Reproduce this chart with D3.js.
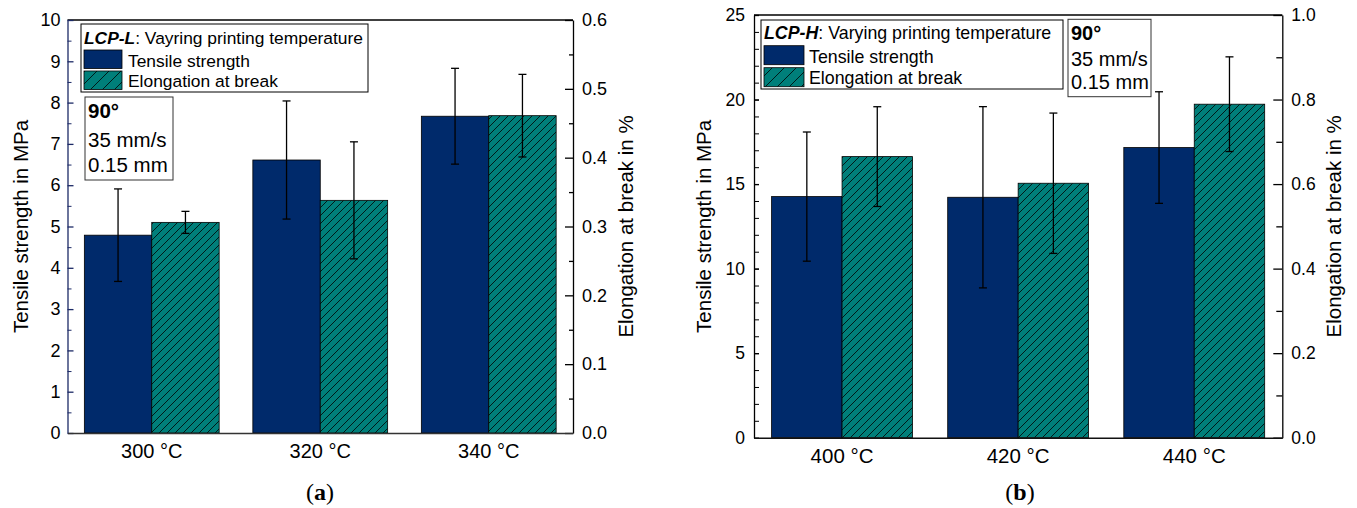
<!DOCTYPE html>
<html>
<head>
<meta charset="utf-8">
<script src="https://cdn.jsdelivr.net/npm/d3@7"></script>
<style>
  body { margin: 0; background: #fff; }
  text { font-family: "Liberation Sans", Arial, sans-serif; fill: #000; }
</style>
</head>
<body>
<script>
// panel (a) data, LCP-L
var tempsA = ["300 °C", "320 °C", "340 °C"];
var tensileA = [4.79, 6.61, 7.67];
var tensileErrA = [1.12, 1.43, 1.16];
var elongA = [0.306, 0.338, 0.461];
var elongErrA = [0.016, 0.085, 0.060];
var leftTicksA = [0, 1, 2, 3, 4, 5, 6, 7, 8, 9, 10];
var rightTicksA = [0.0, 0.1, 0.2, 0.3, 0.4, 0.5, 0.6];

// panel (b) data, LCP-H
var tempsB = ["400 °C", "420 °C", "440 °C"];
var tensileB = [14.26, 14.22, 17.16];
var tensileErrB = [3.82, 5.36, 3.30];
var elongB = [0.665, 0.602, 0.789];
var elongErrB = [0.118, 0.166, 0.112];
var leftTicksB = [0, 5, 10, 15, 20, 25];
var rightTicksB = [0.0, 0.2, 0.4, 0.6, 0.8, 1.0];

var blue = "#002a6b",
    teal = "#007f7a";

var svg = d3.select("body").append("svg")
    .attr("width", 1357)
    .attr("height", 508);

svg.append("rect").attr("width", 1357).attr("height", 508).attr("fill", "#fff");

// hatch patterns (bars and legend swatches)
var defs = svg.append("defs");
function hatch(id, s) {
  var p = defs.append("pattern")
      .attr("id", id)
      .attr("patternUnits", "userSpaceOnUse")
      .attr("width", s)
      .attr("height", s);
  p.append("rect").attr("width", s).attr("height", s).attr("fill", teal);
  p.append("path")
      .attr("d", "M0," + s + "L" + s + ",0M" + (-s / 4) + "," + (s / 4) + "L" + (s / 4) + "," + (-s / 4) +
                 "M" + (s * 3 / 4) + "," + (s * 5 / 4) + "L" + (s * 5 / 4) + "," + (s * 3 / 4))
      .attr("stroke", "#000")
      .attr("stroke-width", 0.8);
}
hatch("hatchBar", 8);
hatch("hatchLeg", 12);

function drawPanel(p) {
  var g = svg.append("g");

  var x = d3.scaleBand().domain(p.cats).range([p.left, p.right])
      .paddingInner(0.2).paddingOuter(0.1);
  var xs = d3.scaleBand().domain(["t", "e"]).range([0, x.bandwidth()]);
  var y = d3.scaleLinear().domain([0, p.leftTicks[p.leftTicks.length - 1]]).range([p.bottom, p.top]);
  var y2 = d3.scaleLinear().domain([0, p.rightTicks[p.rightTicks.length - 1]]).range([p.bottom, p.top]);

  // tensile bars
  g.selectAll(".bt").data(p.cats).enter().append("rect")
      .attr("x", function(d) { return x(d) + xs("t"); })
      .attr("y", function(d, i) { return y(p.tensile[i]); })
      .attr("width", xs.bandwidth())
      .attr("height", function(d, i) { return y(0) - y(p.tensile[i]); })
      .attr("fill", blue)
      .attr("stroke", "#000")
      .attr("stroke-width", 0.8);

  // elongation bars
  g.selectAll(".be").data(p.cats).enter().append("rect")
      .attr("x", function(d) { return x(d) + xs("e"); })
      .attr("y", function(d, i) { return y2(p.elong[i]); })
      .attr("width", xs.bandwidth())
      .attr("height", function(d, i) { return y2(0) - y2(p.elong[i]); })
      .attr("fill", "url(#hatchBar)")
      .attr("stroke", "#000")
      .attr("stroke-width", 0.8);

  // error bars
  function errBars(vals, errs, sc, key) {
    var eg = g.selectAll(".e" + key).data(p.cats).enter().append("g")
        .attr("stroke", "#000").attr("stroke-width", 1.3);
    var cx = function(d) { return x(d) + xs(key) + xs.bandwidth() / 2; };
    eg.append("line")
        .attr("x1", cx).attr("x2", cx)
        .attr("y1", function(d, i) { return sc(vals[i] + errs[i]); })
        .attr("y2", function(d, i) { return sc(vals[i] - errs[i]); });
    [1, -1].forEach(function(sg) {
      eg.append("line")
          .attr("x1", function(d) { return cx(d) - 4; })
          .attr("x2", function(d) { return cx(d) + 4; })
          .attr("y1", function(d, i) { return sc(vals[i] + sg * errs[i]); })
          .attr("y2", function(d, i) { return sc(vals[i] + sg * errs[i]); });
    });
  }
  errBars(p.tensile, p.tensileErr, y, "t");
  errBars(p.elong, p.elongErr, y2, "e");

  // top frame line
  g.append("line")
      .attr("x1", p.left).attr("x2", p.right)
      .attr("y1", p.top).attr("y2", p.top)
      .attr("stroke", "#000").attr("stroke-width", 1.3);

  // left axis, minor then major
  g.append("g")
      .attr("transform", "translate(" + p.left + ",0)")
      .call(d3.axisLeft(y).tickValues(p.leftMinor).tickSize(-p.minorL).tickFormat(""))
      .call(function(a) { a.select(".domain").remove(); })
      .selectAll("line").attr("stroke", p.leftColor);
  var la = g.append("g")
      .attr("transform", "translate(" + p.left + ",0)")
      .call(d3.axisLeft(y).tickValues(p.leftTicks).tickSize(-p.majorL).tickSizeOuter(0).tickPadding(p.padL));
  la.selectAll("line, path").attr("stroke", p.leftColor).attr("stroke-width", 1.3);
  la.selectAll("text").attr("font-size", p.tickFont).attr("font-family", null);

  // right axis
  g.append("g")
      .attr("transform", "translate(" + p.right + ",0)")
      .call(d3.axisRight(y2).tickValues(p.rightMinor).tickSize(-p.minorR).tickFormat(""))
      .call(function(a) { a.select(".domain").remove(); })
      .selectAll("line").attr("stroke", "#000").attr("stroke-width", 1.3);
  var ra = g.append("g")
      .attr("transform", "translate(" + p.right + ",0)")
      .call(d3.axisRight(y2).tickValues(p.rightTicks).tickSize(-p.majorR).tickSizeOuter(0)
        .tickPadding(p.padR).tickFormat(d3.format(".1f")));
  ra.selectAll("line, path").attr("stroke", "#000").attr("stroke-width", 1.3);
  ra.selectAll("text").attr("font-size", p.tickFont).attr("font-family", null);

  // bottom axis
  var ba = g.append("g")
      .attr("transform", "translate(0," + p.bottom + ")")
      .call(d3.axisBottom(x).tickSize(0).tickSizeOuter(0).tickPadding(p.padB));
  ba.select(".domain").attr("stroke", p.bottomColor).attr("stroke-width", 1.6);
  ba.selectAll("text").attr("font-size", p.xFont).attr("font-family", null);

  // axis titles
  var midY = (p.top + p.bottom) / 2;
  g.append("text")
      .attr("transform", "translate(" + p.titleL + "," + midY + ") rotate(-90)")
      .attr("text-anchor", "middle")
      .attr("dominant-baseline", "central")
      .attr("font-size", p.titleFont)
      .text("Tensile strength in MPa");
  g.append("text")
      .attr("transform", "translate(" + p.titleR + "," + midY + ") rotate(-90)")
      .attr("text-anchor", "middle")
      .attr("dominant-baseline", "central")
      .attr("font-size", p.titleFont)
      .text("Elongation at break in %");

  // legend
  var L = p.legend;
  g.append("rect")
      .attr("x", L.x).attr("y", L.y).attr("width", L.w).attr("height", L.h)
      .attr("fill", "#fff").attr("stroke", "#000").attr("stroke-width", 1);
  var lt = g.append("text")
      .attr("x", L.x + 3).attr("y", L.y + L.title)
      .attr("font-size", L.font);
  lt.append("tspan").attr("font-weight", "bold").attr("font-style", "italic").text(p.material);
  lt.append("tspan").text(": " + p.legendText);
  g.append("rect")
      .attr("x", L.x + 3).attr("y", L.y + L.sw1).attr("width", L.sww).attr("height", L.swh)
      .attr("fill", blue).attr("stroke", "#000").attr("stroke-width", 0.8);
  g.append("rect")
      .attr("x", L.x + 3).attr("y", L.y + L.sw2).attr("width", L.sww).attr("height", L.swh)
      .attr("fill", "url(#hatchLeg)").attr("stroke", "#000").attr("stroke-width", 0.8);
  g.append("text")
      .attr("x", L.x + L.tx).attr("y", L.y + L.sw1 + L.swh - 2)
      .attr("font-size", L.font).text("Tensile strength");
  g.append("text")
      .attr("x", L.x + L.tx).attr("y", L.y + L.sw2 + L.swh - 3)
      .attr("font-size", L.font).text("Elongation at break");

  // settings box
  var B = p.inset;
  g.append("rect")
      .attr("x", B.x).attr("y", B.y).attr("width", B.w).attr("height", B.h)
      .attr("fill", "#fff").attr("stroke", "#333").attr("stroke-width", 1);
  ["90°", "35 mm/s", "0.15 mm"].forEach(function(s, i) {
    g.append("text")
        .attr("x", B.x + 3).attr("y", B.y + B.lines[i])
        .attr("font-size", B.font)
        .attr("font-weight", i == 0 ? "bold" : null)
        .text(s);
  });

  // caption
  var cap = g.append("text")
      .attr("x", p.capX).attr("y", 500)
      .attr("text-anchor", "middle")
      .attr("font-size", 24)
      .style("font-family", "'Palatino Linotype', 'Book Antiqua', 'Liberation Serif', serif");
  cap.append("tspan").text("(");
  cap.append("tspan").attr("font-weight", "bold").text(p.letter);
  cap.append("tspan").text(")");
}

drawPanel({
  cats: tempsA, tensile: tensileA, tensileErr: tensileErrA, elong: elongA, elongErr: elongErrA,
  leftTicks: leftTicksA, rightTicks: rightTicksA,
  leftMinor: d3.range(0.5, 10, 1), rightMinor: d3.range(0.05, 0.6, 0.1),
  left: 67.5, right: 573, top: 20, bottom: 433,
  leftColor: "#1c2a66", bottomColor: "#333",
  majorL: 6, minorL: 4, majorR: 8, minorR: 4, padL: 7, padR: 9, padB: 11,
  tickFont: 18, xFont: 20, titleFont: 20.5, titleL: 20, titleR: 625,
  material: "LCP-L", legendText: "Vayring printing temperature",
  legend: { x: 81, y: 24, w: 287, h: 68, font: 17.4, title: 20, sw1: 26, sw2: 47, sww: 38, swh: 18.5, tx: 47 },
  inset: { x: 85, y: 97, w: 88, h: 83, font: 20.5, lines: [21, 50, 75] },
  capX: 320, letter: "a"
});

drawPanel({
  cats: tempsB, tensile: tensileB, tensileErr: tensileErrB, elong: elongB, elongErr: elongErrB,
  leftTicks: leftTicksB, rightTicks: rightTicksB,
  leftMinor: d3.range(1, 25, 1), rightMinor: d3.range(0.1, 1.0, 0.2),
  left: 754, right: 1282.3, top: 15, bottom: 437.7,
  leftColor: "#000", bottomColor: "#111",
  majorL: 5, minorL: 5, majorR: 9, minorR: 6, padL: 9, padR: 9, padB: 11,
  tickFont: 17.5, xFont: 20.5, titleFont: 20.5, titleL: 703, titleR: 1333,
  material: "LCP-H", legendText: "Varying printing temperature",
  legend: { x: 761, y: 20, w: 302, h: 69, font: 17.8, title: 19, sw1: 25.7, sw2: 47.7, sww: 40, swh: 19, tx: 48 },
  inset: { x: 1068, y: 19.3, w: 83, h: 77.4, font: 20, lines: [21, 46.4, 70] },
  capX: 1020, letter: "b"
});
</script>
</body>
</html>
